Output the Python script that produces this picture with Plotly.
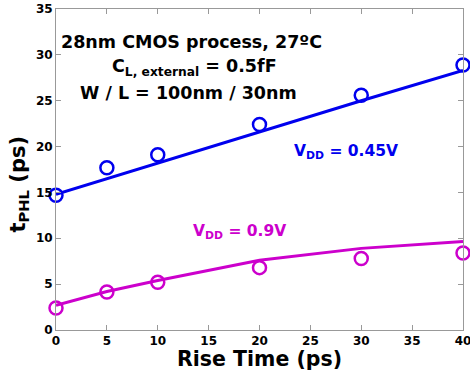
import plotly.graph_objects as go

rise_time = [0, 5, 10, 20, 30, 40]
sim_045 = [14.7, 17.7, 19.1, 22.4, 25.6, 28.9]
fit_045 = [14.8, 16.5, 18.2, 21.6, 25.0, 28.3]
sim_09 = [2.4, 4.15, 5.2, 6.8, 7.8, 8.4]
fit_09 = [2.7, 4.2, 5.4, 7.6, 8.9, 9.65]
x_ticks = [0, 5, 10, 15, 20, 25, 30, 35, 40]
y_ticks = [0, 5, 10, 15, 20, 25, 30, 35]

BLUE = "#0000ee"
MAG = "#cc00cc"
FONT = "DejaVu Sans, Liberation Sans, sans-serif"

fig = go.Figure()
fig.add_trace(go.Scatter(x=rise_time, y=fit_045, mode="lines",
                         line=dict(color=BLUE, width=3), showlegend=False))
fig.add_trace(go.Scatter(x=rise_time, y=sim_045, mode="markers",
                         marker=dict(symbol="circle-open", size=13, color=BLUE,
                                     line=dict(width=2.5, color=BLUE)),
                         showlegend=False, cliponaxis=False))
fig.add_trace(go.Scatter(x=rise_time, y=fit_09, mode="lines",
                         line=dict(color=MAG, width=3), showlegend=False))
fig.add_trace(go.Scatter(x=rise_time, y=sim_09, mode="markers",
                         marker=dict(symbol="circle-open", size=13, color=MAG,
                                     line=dict(width=2.5, color=MAG)),
                         showlegend=False, cliponaxis=False))

ann_font = dict(family=FONT, size=17.5, color="black")
fig.add_annotation(x=13.3, y=31.4, text="<b>28nm CMOS process, 27ºC</b>",
                   showarrow=False, font=ann_font)
fig.add_annotation(x=13.6, y=28.6, text="<b>C<sub>L, external</sub> = 0.5fF</b>",
                   showarrow=False, font=ann_font)
fig.add_annotation(x=13.0, y=25.8, text="<b>W / L = 100nm / 30nm</b>",
                   showarrow=False, font=ann_font)
fig.add_annotation(x=28.5, y=19.4, text="<b>V<sub>DD</sub> = 0.45V</b>",
                   showarrow=False, font=dict(family=FONT, size=15.5, color=BLUE))
fig.add_annotation(x=18.0, y=10.7, text="<b>V<sub>DD</sub> = 0.9V</b>",
                   showarrow=False, font=dict(family=FONT, size=15.5, color=MAG))
# y-axis title
fig.add_annotation(xref="paper", yref="paper", x=-0.092, y=0.455,
                   xanchor="center", yanchor="middle",
                   text="<b>t<sub>PHL</sub> (ps)</b>", textangle=-90,
                   showarrow=False, font=dict(family=FONT, size=21, color="black"))

axis_common = dict(showline=True, mirror="ticks", linecolor="#999999", linewidth=1,
                   ticks="inside", ticklen=5, tickcolor="#999999", showgrid=False,
                   zeroline=False, automargin=False, ticklabeloverflow="allow",
                   tickfont=dict(family=FONT, size=12, color="black", weight="bold"))

fig.update_xaxes(range=[0, 40], tickvals=x_ticks, ticktext=[str(v) for v in x_ticks],
                 title=dict(text="<b>Rise Time (ps)</b>", standoff=0,
                            font=dict(family=FONT, size=20.5, color="black")),
                 **axis_common)
fig.update_yaxes(range=[0, 35], tickvals=y_ticks, ticktext=[str(v) for v in y_ticks],
                 **axis_common)

fig.update_layout(width=470, height=371, margin=dict(l=56, r=7, t=9, b=41),
                  plot_bgcolor="white", paper_bgcolor="white")

fig.write_html("out.html", config={"displayModeBar": False},
               post_script="document.body.style.margin='0';document.body.style.overflow='hidden';")
